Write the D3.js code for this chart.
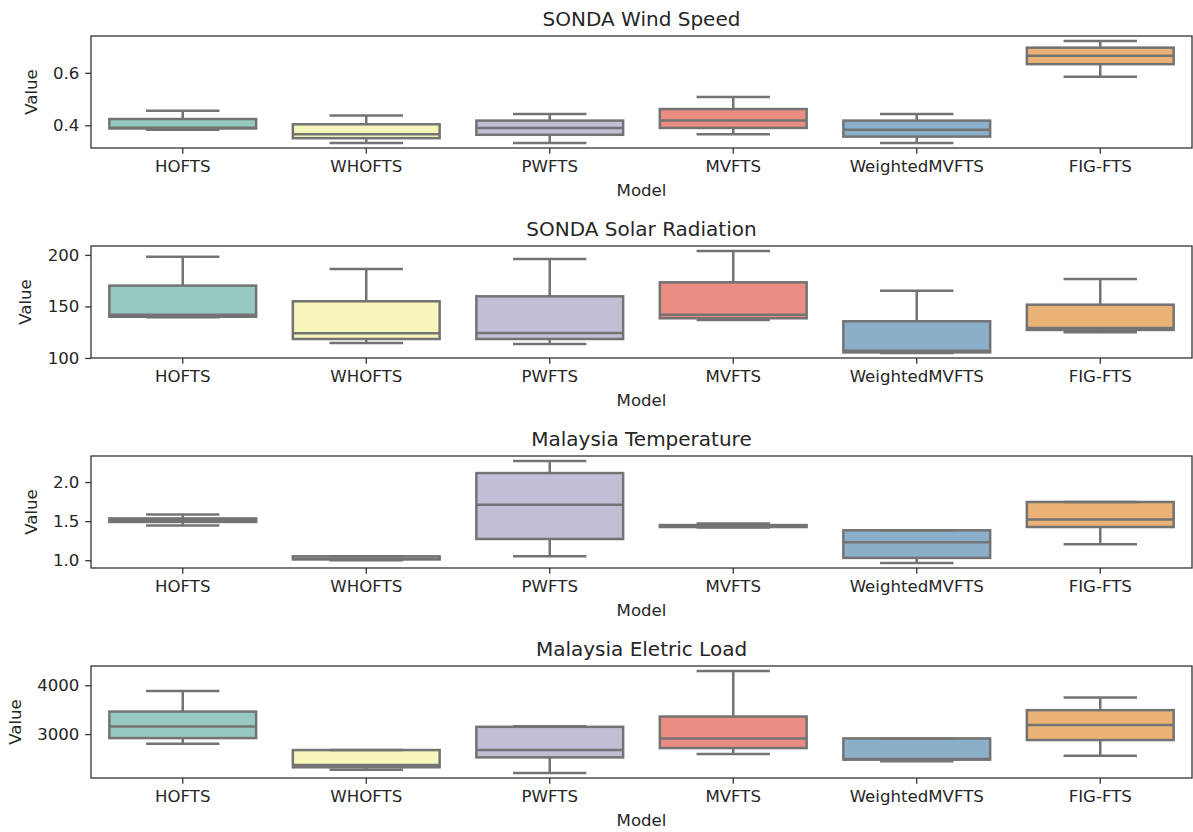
<!DOCTYPE html>
<html>
<head>
<meta charset="utf-8">
<script src="https://cdn.jsdelivr.net/npm/d3@7"></script>
<style>
  body { margin: 0; background: #fff; }
  svg text { font-family: "DejaVu Sans", sans-serif; fill: #262626; }
</style>
</head>
<body>
<div id="chart"></div>
<script>
const width = 1193;
const height = 832;

const models = ["HOFTS", "WHOFTS", "PWFTS", "MVFTS", "WeightedMVFTS", "FIG-FTS"];
const titles = ["SONDA Wind Speed", "SONDA Solar Radiation", "Malaysia Temperature", "Malaysia Eletric Load"];
const fills = ["#96cac1", "#f6f6bc", "#c1bed6", "#ea8d83", "#8bafc9", "#eab375"];

// [low whisker, q1, median, q3, high whisker] per model
const windSpeed = [
  [0.383, 0.388, 0.391, 0.424, 0.456],
  [0.333, 0.351, 0.366, 0.404, 0.437],
  [0.333, 0.364, 0.390, 0.418, 0.443],
  [0.366, 0.390, 0.418, 0.462, 0.508],
  [0.333, 0.357, 0.383, 0.418, 0.443],
  [0.585, 0.633, 0.665, 0.696, 0.721]
];
const solarRadiation = [
  [139.5, 140.0, 142.0, 170.2, 198.3],
  [114.6, 118.4, 123.9, 155.0, 186.4],
  [113.6, 118.4, 124.3, 159.8, 196.0],
  [136.9, 138.5, 142.0, 173.4, 203.7],
  [104.9, 105.4, 107.0, 135.6, 165.3],
  [124.9, 127.2, 129.0, 151.7, 176.7]
];
const temperature = [
  [1.445, 1.490, 1.510, 1.535, 1.585],
  [1.000, 1.010, 1.020, 1.050, 1.050],
  [1.051, 1.272, 1.711, 2.115, 2.268],
  [1.420, 1.425, 1.440, 1.450, 1.470],
  [0.966, 1.030, 1.230, 1.383, 1.383],
  [1.204, 1.425, 1.520, 1.745, 1.745]
];
const electricLoad = [
  [2802, 2918, 3155, 3461, 3884],
  [2271, 2320, 2367, 2673, 2673],
  [2205, 2523, 2673, 3149, 3160],
  [2592, 2714, 2911, 3359, 4290],
  [2445, 2476, 2490, 2911, 2911],
  [2557, 2878, 3184, 3490, 3748]
];
const panels = [windSpeed, solarRadiation, temperature, electricLoad];

const yTicks = [[0.4, 0.6], [100, 150, 200], [1.0, 1.5, 2.0], [3000, 4000]];
const yFormats = [".1f", "d", ".1f", "d"];

const LEFT = 91;
const RIGHT = 1192;
const TOP = 36;
const PANEL_H = 112;
const PANEL_STEP = 210;
const LINE = "#737373";
const LW = 2.5;
const TICK = 5.8;

const svg = d3.select("#chart")
  .append("svg")
  .attr("width", width)
  .attr("height", height);

const x = d3.scaleBand()
  .domain(models)
  .range([LEFT, RIGHT])
  .paddingInner(0)
  .paddingOuter(0);

const boxW = x.bandwidth() * 0.8;

panels.forEach((stats, p) => {
  const top = TOP + p * PANEL_STEP;
  const bottom = top + PANEL_H;

  // matplotlib-style 5% margins around the whisker range
  const lo = d3.min(stats, d => d[0]);
  const hi = d3.max(stats, d => d[4]);
  const pad = (hi - lo) * 0.05;
  const y = d3.scaleLinear()
    .domain([lo - pad, hi + pad])
    .range([bottom, top]);

  const g = svg.append("g").attr("class", "panel");

  const box = g.selectAll(".box")
    .data(stats)
    .enter()
    .append("g")
    .attr("class", "box")
    .attr("transform", (d, i) => `translate(${x(models[i]) + x.bandwidth() / 2},0)`);

  box.append("rect")
    .attr("x", -boxW / 2)
    .attr("width", boxW)
    .attr("y", d => y(d[3]))
    .attr("height", d => Math.max(0.1, y(d[1]) - y(d[3])))
    .attr("fill", (d, i) => fills[i])
    .attr("stroke", LINE)
    .attr("stroke-width", LW);

  // whiskers
  box.append("line")
    .attr("x1", 0).attr("x2", 0)
    .attr("y1", d => y(d[3])).attr("y2", d => y(d[4]))
    .attr("stroke", LINE).attr("stroke-width", LW);
  box.append("line")
    .attr("x1", 0).attr("x2", 0)
    .attr("y1", d => y(d[1])).attr("y2", d => y(d[0]))
    .attr("stroke", LINE).attr("stroke-width", LW);

  // caps
  [0, 4].forEach(k => {
    box.append("line")
      .attr("x1", -boxW / 4).attr("x2", boxW / 4)
      .attr("y1", d => y(d[k])).attr("y2", d => y(d[k]))
      .attr("stroke", LINE).attr("stroke-width", LW);
  });

  // median
  box.append("line")
    .attr("x1", -boxW / 2).attr("x2", boxW / 2)
    .attr("y1", d => y(d[2])).attr("y2", d => y(d[2]))
    .attr("stroke", LINE).attr("stroke-width", LW);

  // frame
  g.append("rect")
    .attr("x", LEFT)
    .attr("y", top)
    .attr("width", RIGHT - LEFT)
    .attr("height", PANEL_H)
    .attr("fill", "none")
    .attr("stroke", "#333")
    .attr("stroke-width", 1.3);

  const xAxis = g.append("g")
    .attr("transform", `translate(0,${bottom})`)
    .call(d3.axisBottom(x).tickSize(TICK).tickPadding(5.8).tickSizeOuter(0));

  const yAxis = g.append("g")
    .attr("transform", `translate(${LEFT},0)`)
    .call(d3.axisLeft(y).tickValues(yTicks[p]).tickFormat(d3.format(yFormats[p]))
      .tickSize(TICK).tickPadding(5.8).tickSizeOuter(0));

  [xAxis, yAxis].forEach(a => {
    a.select(".domain").remove();
    a.selectAll(".tick line").attr("stroke", "#333").attr("stroke-width", 1.3);
    a.selectAll(".tick text")
      .style("font-size", "16.6px")
      .attr("fill", "#262626");
  });
  xAxis.selectAll(".tick text").attr("dy", "0.76em");

  g.append("text")
    .attr("x", (LEFT + RIGHT) / 2)
    .attr("y", top - 10)
    .attr("text-anchor", "middle")
    .style("font-size", "20px")
    .text(titles[p]);

  g.append("text")
    .attr("x", (LEFT + RIGHT) / 2)
    .attr("y", bottom + 48)
    .attr("text-anchor", "middle")
    .style("font-size", "16.6px")
    .text("Model");

  let maxW = 0;
  yAxis.selectAll(".tick text").each(function() {
    maxW = Math.max(maxW, this.getComputedTextLength());
  });
  const labelX = LEFT - TICK - 5.8 - maxW - 16.3;
  g.append("text")
    .attr("transform", `translate(${labelX},${(top + bottom) / 2}) rotate(-90)`)
    .attr("text-anchor", "middle")
    .style("font-size", "16.6px")
    .text("Value");
});
</script>
</body>
</html>
